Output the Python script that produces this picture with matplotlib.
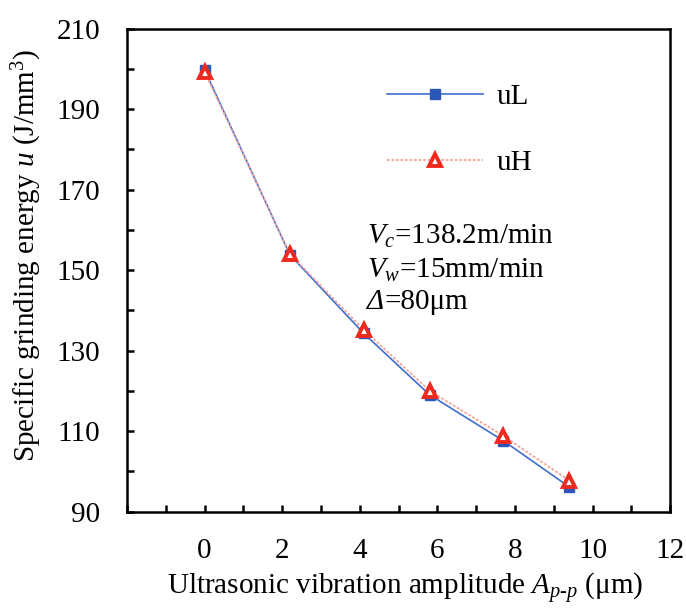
import numpy as np
import matplotlib
matplotlib.use("Agg")
import matplotlib.pyplot as plt

# amplitude A_p-p (um) and specific grinding energy u (J/mm^3)
amp = [0, 2.2, 4.1, 5.8, 7.7, 9.4]
uL = [199.8, 153.8, 134.3, 119.0, 107.6, 96.1]
uH = [199.3, 154.0, 135.2, 120.0, 108.8, 97.7]

plt.rcParams.update({
    "font.family": "Liberation Serif",
    "mathtext.fontset": "custom",
    "mathtext.rm": "Liberation Serif",
    "mathtext.it": "Liberation Serif:italic",
    "font.size": 21,
})

fig = plt.figure(figsize=(6.86, 6.09), dpi=100)
ax = fig.add_axes([0.185, 0.16, 0.792, 0.793])

ax.plot(amp, uL, color="#3f6fcf", lw=1.2, marker="s", ms=7,
        mfc="#2b58b8", mec="#2b58b8", label="uL", zorder=3)
ax.plot(amp, uH, color="#f4a29a", lw=1.3, ls=(0, (1.5, 1)), marker="^", ms=8.5,
        mfc="white", mec="#ee2a1f", mew=2.8, label="uH", zorder=4)

ax.set_xlim(-2, 12)
ax.set_ylim(90, 210)
ax.set_xticks(np.arange(-2, 13, 1))
ax.set_xticklabels(["" if (v % 2 or v < 0) else str(v) for v in range(-2, 13)])
ax.set_yticks(np.arange(90, 211, 10))
ax.set_yticklabels([str(v) if (v - 90) % 20 == 0 else "" for v in range(90, 211, 10)])
ax.tick_params(direction="in", length=5, width=1.8)
ax.tick_params(axis="y", pad=19)
ax.tick_params(axis="x", pad=19)
for s in ax.spines.values():
    s.set_linewidth(1.8)

ax.set_xlabel("Ultrasonic vibration amplitude $A_{p\\text{-}p}$ (\u03bcm)")
ax.set_ylabel("Specific grinding energy $u$ (J/mm$^3$)")
ax.xaxis.set_label_coords(0.512, -0.124)
ax.yaxis.set_label_coords(-0.153, 0.531)

ax.legend(loc="upper left", bbox_to_anchor=(0.43, 0.94), frameon=False,
          handlelength=3.3, handletextpad=0.45, labelspacing=1.35, fontsize=21)

ax.text(0.442, 0.569, "$V_c$=138.2m/min", transform=ax.transAxes, va="center")
ax.text(0.442, 0.500, "$V_w$=15mm/min", transform=ax.transAxes, va="center")
t = ax.text(0.442, 0.434, "\u0394", style="italic", transform=ax.transAxes, va="center")
ax.annotate("=80\u03bcm", xy=(1, 0.5), xycoords=t, va="center")

fig.savefig("out.png", dpi=100)
